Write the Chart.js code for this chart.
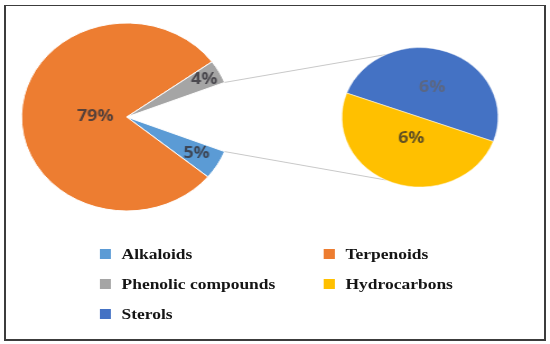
<!DOCTYPE html>
<html lang="en">
<head>
    <meta charset="UTF-8">
    <title>Pie of pie</title>
    <style>
      * {
    margin: 0;
    padding: 0;
    box-sizing: border-box;
}

body {
    width: 550px;
    height: 344px;
    background: #fff;
    overflow: hidden;
    position: relative;
}

/* the source picture is stretched sideways, so the whole drawing is too */
#stage {
    position: absolute;
    left: 0;
    top: 0;
    width: 491px;
    height: 344px;
    transform: scaleX(1.12);
    transform-origin: 0 0;
}

#stage canvas {
    position: absolute;
    left: 0;
    top: 0;
}

#frame {
    position: absolute;
    left: 4px;
    top: 5px;
    width: 541.5px;
    height: 335.5px;
    border: 2px solid #3c3c3c;
    border-top-width: 1.5px;
}

.legend-item {
    position: absolute;
    height: 20px;
    display: flex;
    align-items: center;
    font-family: "Liberation Serif", "DejaVu Serif", serif;
    font-weight: bold;
    font-size: 15.6px;
    color: #151515;
    white-space: nowrap;
}

.legend-item span.box {
    display: inline-block;
    width: 10px;
    height: 10px;
    margin-right: 10px;
}
    </style>
</head>
<body>
    <div id="frame"></div>
    <div id="stage">
        <canvas id="mainPie" width="491" height="344"></canvas>
        <canvas id="subPie" width="491" height="344"></canvas>
        <div id="legend"></div>
    </div>
<script src="https://cdn.jsdelivr.net/npm/chart.js"></script>
    <script>
        // data (percent)
        const subLabels = ['Sterols', 'Hydrocarbons'];
        const subValues = [6, 6];
        const mainLabels = ['Other', 'Alkaloids', 'Terpenoids', 'Phenolic compounds'];
        const mainValues = [12, 5, 79, 4];   // "Other" = the two slices that are split off
        const legendOrder = ['Alkaloids', 'Terpenoids', 'Phenolic compounds', 'Hydrocarbons', 'Sterols'];

        const colors = {
            'Other': 'rgba(0,0,0,0)',
            'Alkaloids': '#5B9BD5',
            'Terpenoids': '#ED7D31',
            'Phenolic compounds': '#A5A5A5',
            'Hydrocarbons': '#FFC000',
            'Sterols': '#4472C4'
        };

        // how far out each label sits (share of the radius), like Excel's best fit
        const mainLabelPos = [0, 0.77, 0.30, 0.84];
        const subLabelPos = [0.45, 0.32];
        const mainLabelColor = 'rgba(55,52,60,0.82)';
        const subLabelColor = ['rgba(96,100,116,0.8)', 'rgba(72,62,40,0.85)'];

        // percent labels drawn on the slices
        function labelPlugin(positions, labelColors) {
            return {
                id: 'pctLabels',
                afterDatasetsDraw(chart) {
                    const ctx = chart.ctx;
                    const meta = chart.getDatasetMeta(0);
                    const values = chart.data.datasets[0].data;
                    ctx.save();
                    ctx.font = 'bold 16px "Open Sans", sans-serif';
                    ctx.textAlign = 'center';
                    ctx.textBaseline = 'middle';
                    meta.data.forEach(function(arc, i) {
                        if (!positions[i]) return;
                        const p = arc.getProps(['x', 'y', 'startAngle', 'endAngle', 'outerRadius'], true);
                        const mid = (p.startAngle + p.endAngle) / 2;
                        const r = p.outerRadius * positions[i];
                        ctx.fillStyle = Array.isArray(labelColors) ? labelColors[i] : labelColors;
                        ctx.fillText(values[i] + '%', p.x + Math.cos(mid) * r, p.y + Math.sin(mid) * r);
                    });
                    ctx.restore();
                }
            };
        }

        const mainChart = new Chart(document.getElementById('mainPie'), {
            type: 'pie',
            data: {
                labels: mainLabels,
                datasets: [{
                    data: mainValues,
                    backgroundColor: mainLabels.map(l => colors[l]),
                    borderColor: mainLabels.map(l => l === 'Other' ? 'rgba(0,0,0,0)' : '#ffffff'),
                    borderWidth: mainLabels.map(l => l === 'Other' ? 0 : 1)
                }]
            },
            options: {
                responsive: false,
                animation: false,
                rotation: 68.4,
                layout: { padding: { left: 18.7, right: 283.3, top: 22.5, bottom: 132.5 } },
                plugins: { legend: { display: false }, tooltip: { enabled: false } }
            },
            plugins: [labelPlugin(mainLabelPos, mainLabelColor)]
        });

        // connector lines from the "Other" wedge to the small pie
        const connectors = {
            id: 'connectors',
            beforeDatasetsDraw(chart) {
                const other = mainChart.getDatasetMeta(0).data[0]
                    .getProps(['x', 'y', 'startAngle', 'endAngle', 'outerRadius'], true);
                const sub = chart.getDatasetMeta(0).data[0].getProps(['x', 'y', 'outerRadius'], true);
                const ends = [-116 * Math.PI / 180, 116 * Math.PI / 180];
                const starts = [other.startAngle, other.endAngle];
                const ctx = chart.ctx;
                ctx.save();
                ctx.strokeStyle = '#c8c8c8';
                ctx.lineWidth = 1;
                for (let i = 0; i < 2; i++) {
                    ctx.beginPath();
                    ctx.moveTo(other.x + Math.cos(starts[i]) * other.outerRadius,
                               other.y + Math.sin(starts[i]) * other.outerRadius);
                    ctx.lineTo(sub.x + Math.cos(ends[i]) * sub.outerRadius,
                               sub.y + Math.sin(ends[i]) * sub.outerRadius);
                    ctx.stroke();
                }
                ctx.restore();
            }
        };

        new Chart(document.getElementById('subPie'), {
            type: 'pie',
            data: {
                labels: subLabels,
                datasets: [{
                    data: subValues,
                    backgroundColor: subLabels.map(l => colors[l]),
                    borderColor: '#ffffff',
                    borderWidth: 0.5
                }]
            },
            options: {
                responsive: false,
                animation: false,
                rotation: 290.3,
                layout: { padding: { left: 305, right: 46, top: 47.3, bottom: 156.7 } },
                plugins: { legend: { display: false }, tooltip: { enabled: false } }
            },
            plugins: [connectors, labelPlugin(subLabelPos, subLabelColor)]
        });

        // legend, two columns, built from the same names
        const legend = document.getElementById('legend');
        const cols = [88.5, 288.5];
        const rows = [244, 274, 304];
        legendOrder.forEach(function(name, i) {
            const item = document.createElement('div');
            item.className = 'legend-item';
            item.style.left = cols[i % 2] + 'px';
            item.style.top = rows[Math.floor(i / 2)] + 'px';
            item.innerHTML = '<span class="box" style="background:' + colors[name] + '"></span>' + name;
            legend.appendChild(item);
        });
    </script>
</body>
</html>
